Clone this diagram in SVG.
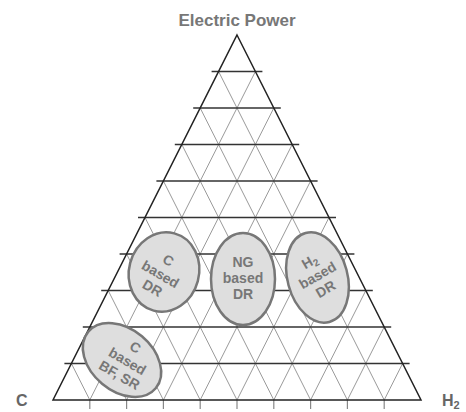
<svg xmlns="http://www.w3.org/2000/svg" width="466" height="412" viewBox="0 0 466 412">
<style>
.diag{stroke:#9a9a9a;stroke-width:1;fill:none}
.hor{stroke:#333;stroke-width:1.5;fill:none}
.edge{stroke:#222;stroke-width:1.5;fill:none;stroke-linejoin:miter}
.tick{stroke:#888;stroke-width:1.2}
.blob{fill:#dedede;stroke:#777;stroke-width:2.5}
.lbl{font-family:"Liberation Sans",Arial,sans-serif;font-weight:bold;fill:#777;font-size:14px;text-anchor:middle}
.axis{font-family:"Liberation Sans",Arial,sans-serif;font-weight:bold;fill:#666;font-size:16px}
</style>
<rect width="466" height="412" fill="#fff"/>
<g id="connectors">
<g class="diag">
<line x1="89.8" y1="400" x2="255.4" y2="71.5"/>
<line x1="126.6" y1="400" x2="273.8" y2="108"/>
<line x1="163.4" y1="400" x2="292.2" y2="144.5"/>
<line x1="200.2" y1="400" x2="310.6" y2="181"/>
<line x1="237" y1="400" x2="329" y2="217.5"/>
<line x1="273.8" y1="400" x2="347.4" y2="254"/>
<line x1="310.6" y1="400" x2="365.8" y2="290.5"/>
<line x1="347.4" y1="400" x2="384.2" y2="327"/>
<line x1="384.2" y1="400" x2="402.6" y2="363.5"/>
<line x1="89.8" y1="400" x2="71.4" y2="363.5"/>
<line x1="126.6" y1="400" x2="89.8" y2="327"/>
<line x1="163.4" y1="400" x2="108.2" y2="290.5"/>
<line x1="200.2" y1="400" x2="126.6" y2="254"/>
<line x1="237" y1="400" x2="145" y2="217.5"/>
<line x1="273.8" y1="400" x2="163.4" y2="181"/>
<line x1="310.6" y1="400" x2="181.8" y2="144.5"/>
<line x1="347.4" y1="400" x2="200.2" y2="108"/>
<line x1="384.2" y1="400" x2="218.6" y2="71.5"/>
</g>
<g class="tick">
<line x1="89.8" y1="400" x2="89.8" y2="409"/>
<line x1="126.6" y1="400" x2="126.6" y2="409"/>
<line x1="163.4" y1="400" x2="163.4" y2="409"/>
<line x1="200.2" y1="400" x2="200.2" y2="409"/>
<line x1="237" y1="400" x2="237" y2="409"/>
<line x1="273.8" y1="400" x2="273.8" y2="409"/>
<line x1="310.6" y1="400" x2="310.6" y2="409"/>
<line x1="347.4" y1="400" x2="347.4" y2="409"/>
<line x1="384.2" y1="400" x2="384.2" y2="409"/>
</g>
<g class="hor">
<line x1="211.6" y1="71.5" x2="262.4" y2="71.5"/>
<line x1="193.2" y1="108" x2="280.8" y2="108"/>
<line x1="174.8" y1="144.5" x2="299.2" y2="144.5"/>
<line x1="156.4" y1="181" x2="317.6" y2="181"/>
<line x1="138" y1="217.5" x2="336" y2="217.5"/>
<line x1="119.6" y1="254" x2="354.4" y2="254"/>
<line x1="101.2" y1="290.5" x2="372.8" y2="290.5"/>
<line x1="82.8" y1="327" x2="391.2" y2="327"/>
<line x1="64.4" y1="363.5" x2="409.6" y2="363.5"/>
</g>
<polygon class="edge" points="237,35 421,400 53,400"/>
</g>
<g id="title"><text class="axis" x="237" y="26" text-anchor="middle" font-size="17" style="font-size:17px;fill:#777">Electric Power</text></g>
<g id="axis-c"><text class="axis" x="16" y="406">C</text></g>
<g id="axis-h2"><text class="axis" x="442" y="406">H<tspan font-size="11" style="font-size:11px" dy="3">2</tspan></text></g>
<g id="c-dr">
<ellipse class="blob" cx="164" cy="272" rx="35" ry="40" transform="rotate(15 164 272)"/>
<g transform="translate(160 275) rotate(30)">
<text class="lbl" x="0" y="-12">C</text>
<text class="lbl" x="0" y="4">based</text>
<text class="lbl" x="0" y="20">DR</text>
</g>
</g>
<g id="ng-dr">
<ellipse class="blob" cx="243" cy="279" rx="32" ry="46"/>
<text class="lbl" x="243" y="267">NG</text>
<text class="lbl" x="243" y="283">based</text>
<text class="lbl" x="243" y="299">DR</text>
</g>
<g id="h2-dr">
<ellipse class="blob" cx="317.5" cy="277.5" rx="30" ry="46" transform="rotate(-15 317.5 277.5)"/>
<g transform="translate(318 276) rotate(-30)">
<text class="lbl" x="0" y="-12">H<tspan style="font-size:10px" dy="3">2</tspan></text>
<text class="lbl" x="0" y="4">based</text>
<text class="lbl" x="0" y="20">DR</text>
</g>
</g>
<g id="c-bf-sr">
<ellipse class="blob" cx="122" cy="360" rx="44" ry="31" transform="rotate(40 122 360)"/>
<g transform="translate(127 362) rotate(30)">
<text class="lbl" x="0" y="-12">C</text>
<text class="lbl" x="0" y="4">based</text>
<text class="lbl" x="0" y="20">BF, SR</text>
</g>
</g>
</svg>
